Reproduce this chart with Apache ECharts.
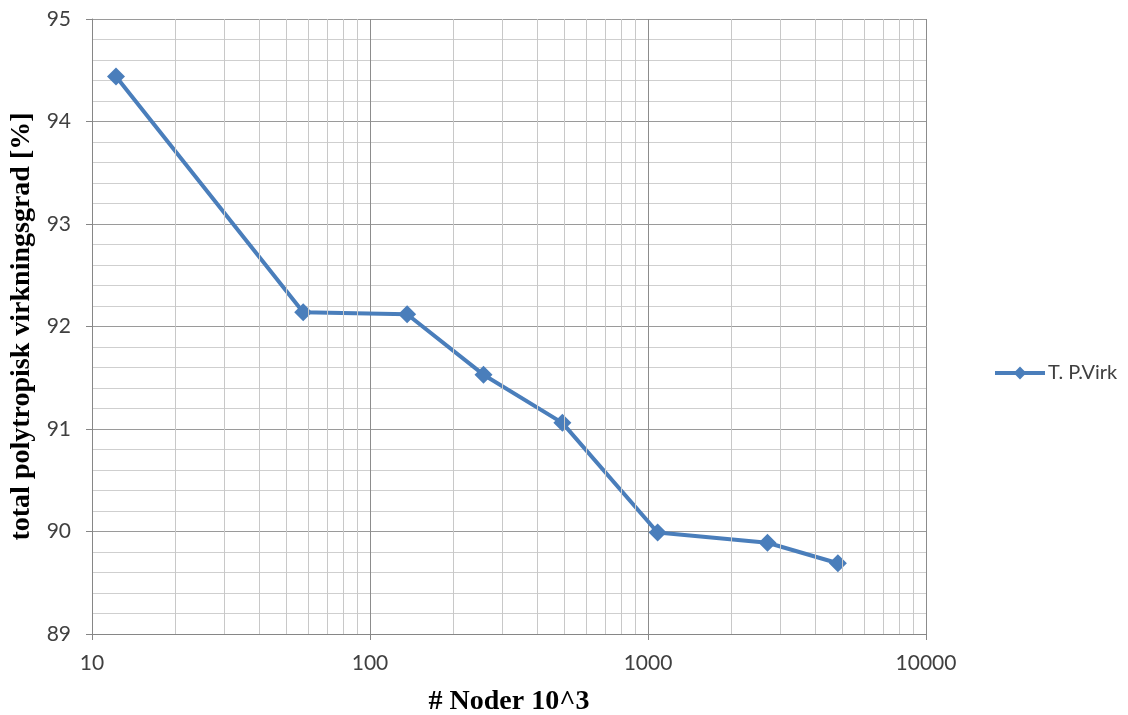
<html>
<head>
    <meta charset="utf-8">
    <title>Chart</title>
    <script src="https://cdn.jsdelivr.net/npm/echarts@6/dist/echarts.min.js"></script>
    <style>
        html, body { margin: 0; padding: 0; background: #fff; }
        #main { width: 1128px; height: 715px; }
    </style>
</head>
<body>
    <div id="main"></div>
    <script type="text/javascript">
        // data
        var noder = [12.2, 57.5, 136, 256, 492, 1083, 2690, 4820];
        var virk = [94.44, 92.14, 92.12, 91.53, 91.06, 89.99, 89.89, 89.69];
        var minorX = [20, 30, 40, 50, 60, 70, 80, 90,
                      200, 300, 400, 500, 600, 700, 800, 900,
                      2000, 3000, 4000, 5000, 6000, 7000, 8000, 9000];
        var seriesName = 'T. P.Virk';

        var blue = '#4a7ebb';
        var myChart = echarts.init(document.getElementById('main'));

        var points = noder.map(function (x, i) { return [x, virk[i]]; });

        var option = {
            animation: false,
            legend: {
                left: 988,
                top: 358,
                orient: 'vertical',
                itemWidth: 50,
                itemHeight: 16,
                itemGap: 4,
                lineStyle: { width: 4 },
                textStyle: { fontFamily: 'Lato', fontSize: 20, color: '#404040', padding: [0, 0, 0, -2] },
                data: [seriesName]
            },
            grid: { left: 92, right: 202, top: 19, bottom: 81, outerBoundsMode: 'none' },
            xAxis: {
                type: 'log',
                logBase: 10,
                min: 10,
                max: 10000,
                name: '# Noder 10^3',
                nameLocation: 'middle',
                nameGap: 54,
                nameTextStyle: { fontFamily: 'Liberation Serif', fontWeight: 'bold', fontSize: 28, color: '#000' },
                axisLine: { lineStyle: { color: '#868686' } },
                axisTick: { show: true, length: 6, lineStyle: { color: '#868686' } },
                axisLabel: {
                    fontFamily: 'Lato', fontSize: 21, color: '#404040', margin: 19,
                    formatter: function (v) { return String(Math.round(v)); }
                },
                splitLine: { show: true, lineStyle: { color: '#8c8c8c' } }
            },
            yAxis: {
                type: 'value',
                min: 89,
                max: 95,
                interval: 1,
                name: 'total polytropisk virkningsgrad [%]',
                nameLocation: 'middle',
                nameGap: 54,
                nameTextStyle: { fontFamily: 'Liberation Serif', fontWeight: 'bold', fontSize: 28, color: '#000' },
                axisLine: { show: true, lineStyle: { color: '#868686' } },
                axisTick: { show: true, length: 6, lineStyle: { color: '#868686' } },
                axisLabel: { fontFamily: 'Lato', fontSize: 21, color: '#404040', margin: 21 },
                splitLine: { show: true, lineStyle: { color: '#9a9a9a' } },
                minorTick: { show: false, splitNumber: 5 },
                minorSplitLine: { show: true, lineStyle: { color: '#cfcfcf' } }
            },
            series: [
                {
                    name: 'minor',
                    type: 'line',
                    data: [],
                    silent: true,
                    z: 1,
                    markLine: {
                        silent: true,
                        symbol: 'none',
                        label: { show: false },
                        lineStyle: { color: '#c8c8c8', width: 1, type: 'solid' },
                        data: minorX.map(function (v) { return { xAxis: v }; })
                    }
                },
                {
                    name: seriesName,
                    type: 'line',
                    z: 3,
                    data: points,
                    symbol: 'diamond',
                    symbolSize: 18,
                    itemStyle: { color: blue },
                    lineStyle: { color: blue, width: 4 }
                }
            ]
        };
        myChart.setOption(option);
    </script>
</body>
</html>
